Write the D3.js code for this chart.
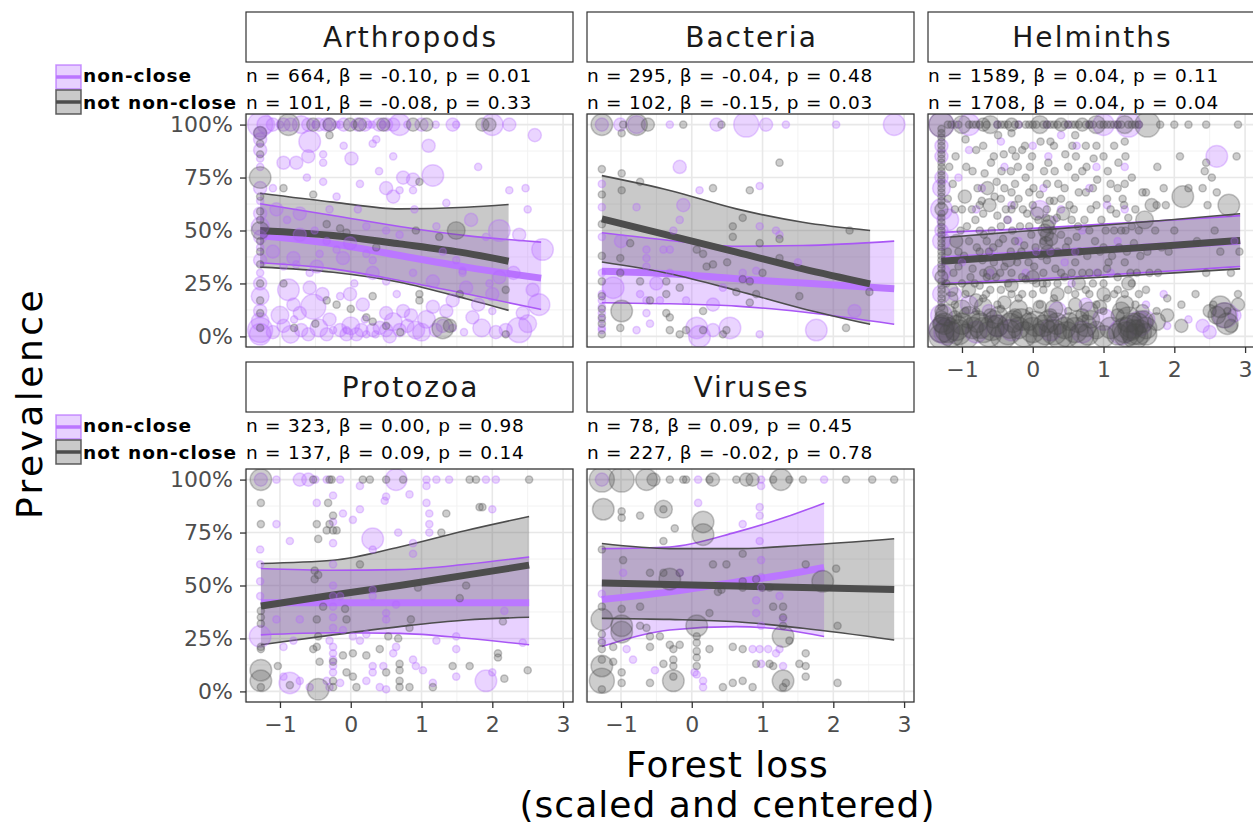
<!DOCTYPE html>
<html><head><meta charset="utf-8">
<script src="https://cdn.jsdelivr.net/npm/d3@7"></script>
<style>body{margin:0;background:#fff} svg{display:block}</style>
</head><body><svg id="chart" width="1253" height="830"></svg>
<script>
// ---------------- DATA ----------------
const panelNames = ["Arthropods", "Bacteria", "Helminths", "Protozoa", "Viruses"];
const groupNames = ["non-close", "not non-close"];
const xTicks = [-1, 0, 1, 2, 3];
const yTicks = [0, 0.25, 0.5, 0.75, 1];
const xDataRange = [-1.27, 2.93];
const annotations = [
  ["n = 664, β = -0.10, p = 0.01", "n = 101, β = -0.08, p = 0.33"],
  ["n = 295, β = -0.04, p = 0.48", "n = 102, β = -0.15, p = 0.03"],
  ["n = 1589, β = 0.04, p = 0.11", "n = 1708, β = 0.04, p = 0.04"],
  ["n = 323, β = 0.00, p = 0.98", "n = 137, β = 0.09, p = 0.14"],
  ["n = 78, β = 0.09, p = 0.45", "n = 227, β = -0.02, p = 0.78"]
];

// fitted curves: [x, fit, lower, upper]
const fitArthropodsNC = [[-1.28,0.476,0.348,0.626],[-0.25,0.437,0.319,0.571],[0.69,0.382,0.264,0.519],[1.63,0.327,0.201,0.476],[2.69,0.275,0.127,0.445]];
const fitArthropodsNNC = [[-1.28,0.50,0.327,0.676],[-0.25,0.476,0.303,0.634],[0.69,0.437,0.256,0.602],[1.63,0.393,0.178,0.61],[2.23,0.355,0.123,0.623]];
const fitBacteriaNC = [[-1.27,0.308,0.159,0.489],[-0.31,0.296,0.154,0.453],[0.63,0.272,0.143,0.426],[1.57,0.252,0.115,0.429],[2.86,0.225,0.057,0.45]];
const fitBacteriaNNC = [[-1.27,0.555,0.351,0.759],[-0.31,0.476,0.296,0.689],[0.63,0.398,0.217,0.602],[1.57,0.319,0.131,0.539],[2.52,0.248,0.057,0.5]];
const fitHelminthsNC = [[-1.29,0.362,0.25,0.492],[0.0,0.39,0.27,0.51],[1.0,0.41,0.29,0.53],[2.0,0.43,0.31,0.55],[2.93,0.45,0.33,0.57]];
const fitHelminthsNNC = [[-1.29,0.355,0.245,0.466],[0.0,0.385,0.262,0.5],[1.0,0.408,0.28,0.525],[2.0,0.43,0.30,0.552],[2.93,0.453,0.319,0.579]];
const fitProtozoaNC = [[-1.27,0.418,0.267,0.58],[-0.25,0.418,0.277,0.572],[0.69,0.418,0.274,0.575],[1.63,0.418,0.251,0.60],[2.52,0.418,0.22,0.635]];
const fitProtozoaNNC = [[-1.27,0.403,0.22,0.604],[-0.25,0.455,0.267,0.619],[0.69,0.50,0.306,0.682],[1.63,0.549,0.337,0.76],[2.52,0.596,0.35,0.826]];
const fitVirusesNC = [[-1.27,0.434,0.212,0.674],[-0.31,0.47,0.29,0.682],[0.63,0.517,0.306,0.752],[1.33,0.552,0.29,0.823],[1.87,0.585,0.259,0.889]];
const fitVirusesNNC = [[-1.27,0.512,0.345,0.698],[-0.31,0.505,0.34,0.674],[0.63,0.498,0.329,0.674],[1.57,0.49,0.298,0.69],[2.86,0.481,0.243,0.721]];

// observations: [forest loss, prevalence, size class]
const arthropodsNC = [[-1.28,1,5],[-1.28,0.96,2],[-1.28,0.93,2],[-1.28,0.88,2],[-1.28,0.84,1],[-1.28,0.80,1],[-1.28,0.70,2],[-1.28,0.64,1],[-1.28,0.58,2],[-1.28,0.52,3],[-1.28,0.47,2],[-1.28,0.42,1],[-1.28,0.36,2],[-1.28,0.30,1],[-1.28,0.25,2],[-1.28,0.19,3],[-1.28,0.12,2],[-1.28,0.07,3],[-1.28,0.03,5],[-1.28,0.01,4],
[-1.1,1,2],[-0.95,1,2],[-0.7,1,3],[-0.6,1,2],[-0.45,1,2],[-0.3,1,2],[-0.2,1,1],[-0.1,1,2],[0.05,1,1],[0.2,1,2],[0.3,1,1],[0.4,1,2],[0.5,1,2],[0.69,1,4],[0.8,1,1],[1.0,1,2],[1.2,1,1],[1.44,1,2],[1.49,1,1],[2.0,1,4],[2.24,1,2],
[-1.2,1,3],[-1.0,1,1],[-0.85,1,2],[-0.5,1,1],[-0.35,1,2],[-0.15,1,1],[0.1,1,2],[0.25,1,1],[0.45,1,1],[0.6,1,2],
[-0.58,0.92,4],[-0.95,0.82,2],[-0.77,0.82,2],[-0.39,0.86,1],[-0.39,0.82,1],[0.01,0.84,2],[0.31,0.91,1],[0.36,0.93,1],[1.16,0.76,4],[0.88,0.74,2],[0.74,0.75,2],[0.13,0.72,1],[0.5,0.70,2],[0.69,0.69,1],[0.88,0.69,1],[1.35,0.63,1],[0.60,0.66,2],[-0.72,0.58,2],[-0.62,0.75,1],[-0.39,0.73,1],[-0.20,0.66,1],[2.24,0.69,1],[2.47,0.70,1],[2.1,0.50,4],[2.38,0.48,2],[2.71,0.41,4],[2.57,0.22,2],[2.66,0.15,4],[2.43,0.11,2],[2.38,0.03,5],[2.19,0.03,2],[2.0,0.20,2],[1.96,0.25,1],[1.63,0.23,2],[1.44,0.17,2],[1.16,0.14,2],[1.07,0.08,3],[1.44,0.04,1],[0.92,0.03,3],[0.69,0.03,2],[0.50,0.03,2],[0.31,0.03,2],[0.22,0.01,1],[0.08,0.01,2],[-0.06,0.01,2],[-0.15,0.03,2],[-0.25,0.03,1],[-0.34,0.01,2],[-0.53,0.14,5],[-0.72,0.11,2],[-0.81,0.15,2],[-0.88,0.22,4],[-0.58,0.23,2],[-0.15,0.19,1],[-0.01,0.20,2],[0.17,0.15,2],[0.5,0.11,2],[0.74,0.12,2],[0.50,0.26,1],[0.88,0.30,1],[1.16,0.26,2],[1.58,0.30,1],[0.31,0.30,2],[0.31,0.36,1],[0.22,0.39,1],[-0.01,0.44,2],[-0.11,0.37,2],[-0.20,0.41,1],[-0.34,0.45,1],[-0.44,0.39,1],[-0.81,0.37,2],[-0.77,0.34,1],[-0.48,0.33,2],[-0.58,0.30,1],[-0.95,0.33,1],[1.21,0.52,1],[1.91,0.47,1],[1.49,0.36,1],[1.58,0.31,1],[2.1,0.28,2],[1.72,0.09,2],[2.0,0.12,1],[0.41,0.04,2],[-0.06,0.03,1],[-0.51,0.50,1],[-0.72,0.48,2],[0.22,0.52,1],[0.50,0.50,1],[0.69,0.48,1],[-1.05,0.60,2],[-1.0,0.10,3],[-1.1,0.40,2],[0.0,0.05,3],[0.6,0.07,3],[1.3,0.05,2],
[-1.1,0.02,2],[-0.95,0.05,2],[-0.85,0.01,3],[-0.7,0.03,2],[-0.6,0.01,2],[-0.45,0.04,3],[0.15,0.03,2],[0.35,0.01,1],[0.55,0.0,2],[0.8,0.05,2],[1.0,0.02,3],[1.2,0.03,2],[1.6,0.02,1],[1.85,0.04,3],[2.05,0.02,2],[2.5,0.06,3],[0.2,0.08,1],[-0.3,0.08,2],[-0.8,0.08,1],[0.85,0.1,2],[1.35,0.12,2],[-0.4,0.2,2],[0.05,0.25,1],[0.65,0.2,1],[1.8,0.15,2],[2.3,0.3,2],
[-1.1,0.7,1],[-0.9,0.55,1],[-0.3,0.6,1],[0.1,0.6,1],[0.4,0.78,1],[0.9,0.6,1],[1.3,0.4,1],[1.7,0.55,2],[2.5,0.6,1],[-0.6,0.85,2],[-0.1,0.9,1],[0.6,0.85,1],[1.1,0.9,2],[1.8,0.8,1],[2.6,0.95,2]];
const arthropodsNNC = [[-1.28,0.96,2],[-1.28,0.91,1],[-1.28,0.86,1],[-1.28,0.75,4],[-1.28,0.66,1],[-1.28,0.59,1],[-1.28,0.55,1],[-1.28,0.50,3],[-1.28,0.45,1],[-1.28,0.40,1],[-1.28,0.34,1],[-1.28,0.25,1],[-1.28,0.17,1],[-1.28,0.11,1],[-1.28,0.04,1],
[-0.88,1,4],[-0.53,1,2],[-0.30,1,2],[-0.01,1,2],[0.13,1,2],[0.46,1,2],[0.88,1,2],[1.07,1,2],[1.86,1,2],[1.96,1,2],[-0.3,0.95,1],
[0.97,0.73,1],[-0.53,0.67,1],[-0.95,0.70,1],[-0.15,0.51,1],[-0.34,0.53,1],[-0.06,0.49,1],[0.36,0.42,1],[0.92,0.50,1],[1.49,0.50,3],[1.25,0.47,1],[2.19,0.22,1],[-0.95,0.25,1],[-0.34,0.17,1],[-0.20,0.15,1],[0.31,0.19,1],[0.97,0.20,1],[0.97,0.17,1],[1.54,0.20,1],[0.22,0.09,1],[0.31,0.07,1],[1.30,0.04,4],[1.40,0.05,2],[-0.80,0.04,1],[-0.5,0.06,1],[0.5,0.05,1],[0.7,0.02,1],[2.19,0.01,1],[0.0,0.13,1]];

const bacteriaNC = [[-1.27,1,2],[-1.01,1,2],[-0.78,1,3],[-0.31,1,1],[0.35,1,2],[0.77,1,5],[1.05,1,2],[1.33,1,1],[2.04,1,1],[2.86,1,4],
[-0.17,0.80,2],[0.11,0.69,1],[0.96,0.71,1],[-0.12,0.62,2],[-0.78,0.61,1],[-1.27,0.72,1],[-1.27,0.61,1],[-1.27,0.47,1],[-1.27,0.30,1],[-1.27,0.20,1],[-1.27,0.17,1],[-1.27,0.14,1],[-1.27,0.11,1],[-1.27,0.08,1],[-1.27,0.04,1],[-1.27,0.03,1],[-1.11,0.23,4],[-0.64,0.41,1],[-0.64,0.37,1],[-0.64,0.33,1],[-0.73,0.20,1],[-0.64,0.17,1],[-0.64,0.11,1],[-0.59,0.06,1],[-0.78,0.03,1],[-0.45,0.17,1],[-0.40,0.41,1],[-0.31,0.30,1],[-0.08,0.17,1],[0.07,0.04,4],[0.11,0.0,4],[0.30,0.03,2],[0.54,0.04,4],[0.96,0.01,1],[0.96,0.52,1],[1.19,0.50,1],[1.24,0.48,1],[1.76,0.03,4],[0.44,0.23,1],[0.72,0.30,1],[0.91,0.31,1],[-0.26,0.50,1],[-0.17,0.55,1],[-0.31,0.41,1],[-1.0,0.45,2],[-0.5,0.25,2],[0.3,0.15,2],[1.5,0.35,1],[2.3,0.12,2]];
const bacteriaNNC = [[-1.27,1,4],[-0.97,1,1],[-0.78,1,4],[-0.62,1,2],[-0.12,1,1],[0.42,1,1],[-0.99,0.96,1],
[-1.27,0.79,1],[-0.99,0.77,1],[-0.73,0.73,1],[-0.99,0.69,1],[0.30,0.70,1],[0.82,0.69,1],[1.24,0.82,1],[-1.27,0.67,1],[-1.27,0.53,1],[-1.27,0.38,1],[-1.27,0.26,1],[-1.27,0.19,1],[-1.27,0.13,1],[-1.27,0.09,1],[-1.27,0.06,1],[-1.27,0.01,1],[-1.01,0.37,1],[-1.01,0.30,1],[-0.87,0.44,1],[-0.73,0.26,1],[-0.99,0.12,4],[-1.01,0.04,1],[-0.36,0.26,1],[-0.36,0.20,1],[-0.17,0.23,1],[-0.31,0.09,1],[-0.31,0.03,1],[-0.17,0.01,1],[0.07,0.41,1],[0.16,0.39,1],[0.21,0.33,1],[0.30,0.34,1],[0.58,0.52,1],[0.72,0.56,1],[0.58,0.47,1],[0.63,0.21,1],[0.72,0.27,1],[0.82,0.26,1],[0.91,0.20,1],[0.82,0.16,1],[0.96,0.44,1],[1.24,0.46,1],[1.24,0.37,1],[1.52,0.19,1],[2.18,0.04,1],[2.23,0.50,1],[2.51,0.21,1],[0.16,0.12,1],[0.16,0.03,1],[-0.08,0.03,1],[0.44,0.01,1],[0.49,0.03,1],[-0.36,0.11,1],[-0.59,0.17,1],[0.5,0.35,1],[1.0,0.3,1]];

const helminthsNC = [[-1.29,1,5],[-1.29,0.9,2],[-1.29,0.75,2],[-1.29,0.6,4],[-1.29,0.45,3],[-1.29,0.3,3],[-1.29,0.1,4],[-1.29,0.03,5],
[-1.1,1,1],[-0.9,1,4],[-0.5,1,1],[-0.2,1,1],[0.2,1,1],[0.5,1,1],[0.8,1,1],[1.0,1,4],[1.2,1,1],[1.35,1,5],[1.5,1,1],
[-1.0,0.35,1],[-0.8,0.6,1],[-0.6,0.3,1],[-0.4,0.8,1],[-0.2,0.45,1],[0.0,0.9,1],[0.15,0.7,1],[0.25,0.4,1],[0.4,0.6,1],[0.55,0.25,1],[0.7,0.5,1],[0.9,0.8,1],[1.1,0.3,1],[1.3,0.6,1],[1.6,0.15,1],[1.9,0.05,1],[2.2,0.08,1],[2.6,0.85,4],[2.85,0.45,1],[-1.2,0.55,4],[-0.9,0.15,3],[0.35,0.12,3],[1.0,0.08,4],[1.5,0.06,5],[-0.5,0.05,4],[0.1,0.6,3],[0.8,0.7,1],[-0.1,0.3,1],
[-0.72,0.7,1],[-0.3,0.62,1],[0.22,0.85,1],[0.62,0.9,1],[1.3,0.8,1],[-0.62,0.12,2],[0.75,0.15,2],[2.72,0.1,5],[2.5,0.02,2],[1.85,0.2,1],[-1.05,0.75,1],[0.45,0.35,1],
[-1.22,0.02,5],[-0.8,0.02,4],[-0.3,0.03,4],[0.25,0.03,4],[0.7,0.02,4],[1.25,0.02,5],[1.6,0.08,3],[-1.1,0.2,2],[-0.6,0.4,1],[-0.35,0.55,1],[0.05,0.4,1],[0.3,0.55,1],[0.6,0.4,1],[0.9,0.3,1],[1.2,0.45,1],[-0.9,0.88,1],[-0.45,0.92,1],[0.4,0.95,1],[1.05,0.62,1],[-1.29,0.2,3],[-1.29,0.5,2],[-1.29,0.7,3],[-1.29,0.85,2],[2.4,0.05,2],[2.85,0.1,2]];
const helminthsNNC = [[-1.29,0.0,5],[-1.29,0.03,5],[-1.29,0.06,3],[-1.29,0.09,2],[-1.29,0.12,2],[-1.29,0.16,1],[-1.29,0.2,1],[-1.29,0.24,1],[-1.29,0.28,2],[-1.29,0.32,1],[-1.29,0.36,1],[-1.29,0.4,1],[-1.29,0.44,1],[-1.29,0.48,1],[-1.29,0.52,1],[-1.29,0.56,1],[-1.29,0.6,2],[-1.29,0.64,1],[-1.29,0.68,1],[-1.29,0.72,1],[-1.29,0.76,1],[-1.29,0.8,1],[-1.29,0.84,1],[-1.29,0.88,1],[-1.29,0.92,1],[-1.29,0.96,1],[-1.29,1,5],
[-1.29,0.14,1],[-1.29,0.18,1],[-1.29,0.22,1],[-1.29,0.26,1],[-1.29,0.3,1],[-1.29,0.34,1],[-1.29,0.38,1],[-1.29,0.42,1],[-1.29,0.46,1],[-1.29,0.5,1],[-1.29,0.54,1],[-1.29,0.58,1],[-1.29,0.62,1],[-1.29,0.66,1],[-1.29,0.7,1],[-1.29,0.74,1],[-1.29,0.78,1],[-1.29,0.82,1],[-1.29,0.86,1],[-1.29,0.9,1],[-1.29,0.94,1],[-1.29,0.98,1],
[-1.15,1,1],[-1.0,1,3],[-0.9,1,1],[-0.8,1,1],[-0.7,1,2],[-0.6,1,3],[-0.5,1,1],[-0.4,1,1],[-0.3,1,2],[-0.2,1,1],[-0.1,1,1],[0.0,1,1],[0.1,1,3],[0.2,1,1],[0.3,1,1],[0.4,1,2],[0.5,1,1],[0.6,1,1],[0.7,1,2],[0.8,1,1],[0.9,1,3],[1.0,1,1],[1.15,1,1],[1.3,1,3],[1.45,1,1],[1.62,1,5],[1.8,1,1],[2.0,1,1],[2.2,1,1],[2.45,1,1],[2.9,1,1],
[-1.2,1,1],[-1.05,1,1],[-0.85,1,1],[-0.75,1,1],[-0.65,1,1],[-0.45,1,1],[-0.35,1,1],[-0.25,1,1],[-0.05,1,1],[0.05,1,1],[0.15,1,1],[0.25,1,1],[0.35,1,1],[0.45,1,1],[0.55,1,1],[0.65,1,1],[0.75,1,1],[0.85,1,1],[0.95,1,1],[1.05,1,1],[1.1,1,1],[1.2,1,1],[1.25,1,1],[1.35,1,1],[1.4,1,1],[1.5,1,1],
[-1.2,0.03,5],[-1.05,0.02,5],[-0.85,0.04,4],[-0.7,0.03,5],[-0.5,0.05,4],[-0.35,0.02,5],[-0.2,0.04,4],[0.0,0.03,5],[0.15,0.05,4],[0.3,0.02,5],[0.45,0.04,4],[0.6,0.03,5],[0.75,0.05,4],[0.9,0.03,3],[1.1,0.04,4],[1.3,0.03,5],[1.4,0.05,5],[1.5,0.02,5],[1.6,0.04,4],[1.75,0.07,3],[1.9,0.1,2],[2.1,0.05,2],[2.5,0.12,2],[2.6,0.1,3],[2.7,0.1,5],[2.8,0.05,2],[2.9,0.15,2],
[-1.25,0.06,4],[-1.15,0.01,5],[-1.0,0.06,4],[-0.95,0.0,5],[-0.78,0.07,4],[-0.62,0.01,5],[-0.55,0.08,3],[-0.42,0.0,5],[-0.28,0.07,4],[-0.12,0.01,5],[-0.05,0.07,3],[0.08,0.0,5],[0.22,0.07,4],[0.38,0.0,5],[0.52,0.07,3],[0.68,0.0,5],[0.82,0.08,3],[1.0,0.0,4],[1.2,0.01,4],[1.35,0.08,5],[1.45,0.0,5],[1.55,0.07,4],[1.25,0.12,3],[0.95,0.14,2],[0.6,0.15,2],[0.1,0.14,2],[-0.4,0.16,2],[-0.8,0.17,2],[-1.15,0.18,2],[2.65,0.14,4],[2.75,0.06,4],
[-1.22,0.1,4],[-1.08,0.04,5],[-0.9,0.09,4],[-0.74,0.05,5],[-0.58,0.04,5],[-0.48,0.1,3],[-0.32,0.05,5],[-0.16,0.08,4],[0.04,0.06,5],[0.18,0.02,5],[0.34,0.06,4],[0.48,0.01,5],[0.64,0.07,4],[0.78,0.01,4],[1.32,0.01,5],[1.38,0.04,5],[1.42,0.02,5],[1.48,0.06,4],[1.6,0.01,4],[-1.0,0.13,3],[-0.7,0.14,3],[-0.2,0.13,3],[0.3,0.13,3],[0.8,0.12,3],[1.3,0.15,3],
[-1.1,0.09,2],[-0.95,0.12,1],[-0.6,0.1,2],[-0.45,0.13,1],[-0.25,0.1,2],[-0.05,0.12,1],[0.25,0.1,2],[0.5,0.12,1],[0.7,0.1,2],[1.0,0.12,1],[1.2,0.1,2],[1.55,0.12,2],
[-1.1,0.15,1],[-1.12,0.3,1],[-1.08,0.45,2],[-1.1,0.6,1],[-1.13,0.72,1],[-1.09,0.85,1],
[-0.95,0.2,1],[-0.97,0.38,1],[-0.93,0.52,1],[-0.96,0.66,2],[-0.94,0.8,1],[-0.95,0.93,1],
[-0.8,0.12,1],[-0.82,0.25,1],[-0.79,0.42,1],[-0.81,0.55,1],[-0.78,0.7,1],[-0.8,0.88,1],
[-0.7,0.18,1],[-0.7,0.3,1],[-0.71,0.36,1],[-0.69,0.48,1],[-0.7,0.58,1],[-0.72,0.64,1],[-0.68,0.77,1],[-0.7,0.9,1],
[-0.6,0.22,1],[-0.62,0.4,1],[-0.58,0.5,1],[-0.61,0.62,2],[-0.59,0.82,1],
[-0.5,0.15,1],[-0.52,0.28,1],[-0.48,0.44,1],[-0.5,0.57,1],[-0.51,0.73,1],[-0.49,0.95,1],
[-0.4,0.33,1],[-0.42,0.46,1],[-0.38,0.6,1],[-0.4,0.7,1],[-0.41,0.86,1],
[-0.3,0.2,1],[-0.3,0.3,1],[-0.31,0.4,1],[-0.29,0.5,1],[-0.3,0.6,1],[-0.3,0.68,1],[-0.31,0.78,1],[-0.29,0.88,1],[-0.3,0.96,1],
[-0.2,0.18,1],[-0.22,0.35,1],[-0.18,0.52,1],[-0.2,0.65,1],[-0.21,0.8,1],
[-0.1,0.27,1],[-0.12,0.43,1],[-0.08,0.58,1],[-0.1,0.75,1],[-0.11,0.9,1],
[0.0,0.2,1],[0.02,0.33,1],[-0.02,0.48,1],[0.0,0.62,1],[0.01,0.7,1],[-0.01,0.85,1],
[0.1,0.15,1],[0.12,0.38,1],[0.08,0.55,1],[0.1,0.67,1],[0.11,0.92,1],
[0.2,0.25,1],[0.2,0.36,1],[0.21,0.4,2],[0.19,0.44,2],[0.2,0.48,2],[0.21,0.52,2],[0.19,0.56,1],[0.2,0.6,1],[0.2,0.72,1],[0.22,0.82,1],
[0.3,0.18,1],[0.32,0.32,1],[0.28,0.5,1],[0.3,0.64,1],[0.31,0.78,1],[0.3,0.9,1],
[0.45,0.28,1],[0.47,0.42,1],[0.43,0.58,2],[0.45,0.7,1],[0.46,0.86,1],
[0.6,0.2,1],[0.6,0.35,1],[0.62,0.47,1],[0.58,0.6,1],[0.6,0.75,1],[0.61,0.85,1],[0.6,0.95,1],
[0.75,0.22,1],[0.77,0.38,1],[0.73,0.55,1],[0.75,0.68,1],[0.76,0.8,1],
[0.9,0.15,1],[0.92,0.3,1],[0.88,0.45,1],[0.9,0.62,1],[0.91,0.74,1],[0.9,0.9,1],
[1.05,0.18,1],[1.07,0.35,1],[1.03,0.5,1],[1.05,0.65,1],[1.06,0.78,1],
[1.2,0.28,1],[1.22,0.42,1],[1.18,0.58,1],[1.2,0.7,1],[1.21,0.82,1],
[1.3,0.2,1],[1.3,0.35,1],[1.31,0.5,1],[1.29,0.62,1],[1.3,0.72,1],[1.31,0.85,1],[1.3,0.92,1],
[1.45,0.15,1],[1.47,0.3,1],[1.43,0.44,1],[1.45,0.6,1],
[1.6,0.22,1],[1.62,0.4,1],[1.58,0.55,3],[1.6,0.68,1],
[1.75,0.12,1],[1.77,0.3,1],[1.73,0.5,1],[1.75,0.62,1],[1.76,0.8,1],
[1.9,0.18,1],[1.92,0.4,1],[1.88,0.62,1],
[2.1,0.15,1],[2.12,0.66,4],[2.08,0.85,1],
[2.3,0.2,1],[2.32,0.45,1],
[2.45,0.3,1],[2.47,0.62,1],[2.43,0.78,1],[2.45,0.82,1],
[2.55,0.15,1],[2.57,0.5,1],[2.53,0.75,1],
[2.75,0.12,1],[2.77,0.62,4],
[2.9,0.2,1],[2.92,0.4,1],[2.88,0.85,1],
[-1.0,0.25,1],[-0.85,0.32,1],[-0.65,0.28,1],[-0.55,0.35,1],[-0.35,0.25,1],[-0.15,0.28,1],[0.05,0.25,1],[0.15,0.3,1],[0.35,0.25,1],[0.55,0.3,1],[0.7,0.3,1],[0.85,0.25,1],[1.0,0.25,1],[1.15,0.2,1],[1.4,0.25,1],[-0.9,0.45,1],[-0.65,0.45,1],[-0.45,0.52,1],[-0.25,0.45,1],[-0.05,0.52,1],[0.15,0.45,1],[0.35,0.4,1],[0.55,0.55,1],[0.8,0.5,1],[1.0,0.42,1],[1.15,0.5,1],[1.4,0.52,1],[-1.0,0.6,1],[-0.75,0.62,1],[-0.45,0.65,1],[-0.25,0.72,1],[-0.05,0.68,1],[0.4,0.65,1],[0.65,0.68,1],[0.85,0.7,1],[1.1,0.72,1],[-0.85,0.78,1],[-0.55,0.85,1],[-0.15,0.88,1],[0.25,0.92,1],[0.5,0.8,1],[0.75,0.9,1],[1.15,0.9,1],[1.4,0.75,1],
[-1.05,0.33,1],[-1.02,0.5,1],[-0.88,0.28,1],[-0.86,0.6,1],[-0.75,0.5,1],[-0.66,0.2,1],[-0.64,0.7,2],[-0.56,0.42,1],[-0.54,0.66,1],[-0.46,0.3,1],[-0.44,0.78,1],[-0.36,0.55,1],[-0.34,0.36,2],[-0.26,0.62,1],[-0.24,0.85,1],[-0.16,0.4,1],[-0.14,0.6,1],[-0.06,0.35,1],[-0.04,0.8,1],[0.04,0.42,1],[0.06,0.58,2],[0.14,0.25,1],[0.16,0.78,1],[0.24,0.64,1],[0.26,0.46,2],[0.17,0.5,2],[0.23,0.54,2],[0.34,0.56,1],[0.36,0.72,1],[0.4,0.3,1],[0.5,0.45,1],[0.52,0.62,1],[0.56,0.9,1],[0.64,0.52,1],[0.66,0.4,1],[0.7,0.78,1],[0.8,0.3,1],[0.82,0.6,1],[0.86,0.84,1],[0.95,0.4,1],[0.97,0.55,1],[1.0,0.85,1],[1.1,0.6,1],[1.12,0.38,1],[1.25,0.5,1],[1.27,0.65,1],[1.33,0.4,1],[1.35,0.56,1],[1.38,0.3,1],[1.5,0.5,1],[1.52,0.38,1],[1.55,0.68,1],[1.65,0.3,1],[1.68,0.62,2],[1.82,0.42,1],[1.85,0.7,1],[2.0,0.5,1],[2.2,0.7,1],[2.4,0.7,1],[2.6,0.68,1],[2.65,0.4,1],[2.8,0.3,1],[-1.2,0.4,1],[-1.2,0.65,1],[-1.18,0.8,1],[-1.22,0.25,1],
[-1.15,0.22,2],[-1.05,0.4,1],[-0.9,0.22,2],[-0.75,0.24,1],[-0.6,0.3,2],[-0.45,0.22,1],[-0.3,0.24,2],[-0.15,0.2,1],[0.0,0.28,2],[0.15,0.22,1],[0.35,0.2,2],[0.5,0.22,1],[0.65,0.25,2],[0.8,0.2,1],[1.0,0.2,2],[1.2,0.22,1],[1.35,0.25,2],[1.5,0.2,1],[-0.75,0.4,1],[-0.2,0.38,1],[0.4,0.48,1],[1.05,0.32,1]];

const protozoaNC = [[-1.27,1,2],[-1.05,1,1],[-0.72,1,2],[-0.60,1,2],[-0.50,1,1],[-0.34,1,1],[-0.15,1,1],[0.64,1,4],[1.07,1,1],[1.21,1,1],[1.39,1,1],[1.91,1,1],[2.05,1,1],
[0.13,0.97,1],[-0.25,0.925,1],[0.50,0.92,1],[1.07,0.97,1],[0.83,0.93,1],
[-1.05,0.79,1],[-0.86,0.71,1],[-1.28,0.67,1],[-0.48,0.89,1],[-0.11,0.84,1],[0.03,0.81,1],[0.13,0.86,1],[0.31,0.72,4],[0.31,0.67,1],[0.48,0.90,1],[0.67,0.75,1],[1.07,0.89,1],[1.11,0.84,1],[1.11,0.79,1],[1.11,0.75,1],[0.88,0.70,1],[0.88,0.65,1],[0.64,0.41,1],[0.50,0.37,1],[0.50,0.34,1],[0.22,0.27,1],[0.13,0.24,1],[-0.11,0.29,1],[-0.15,0.45,1],[0.31,0.48,1],[0.31,0.45,1],[0.03,0.26,1],[-0.30,0.24,1],[-0.25,0.21,1],[-0.25,0.18,1],[-0.25,0.15,1],[-0.25,0.12,1],[-0.25,0.09,1],[-0.34,0.05,1],[-0.86,0.04,4],[-0.95,0.07,1],[-0.72,0.05,1],[-0.58,0.02,1],[-0.30,0.02,1],[-0.15,0.04,1],[0.22,0.05,1],[0.41,0.02,1],[0.50,0.01,1],[0.31,0.12,1],[0.31,0.09,1],[0.46,0.12,1],[0.60,0.18,1],[0.64,0.21,1],[0.88,0.15,1],[0.92,0.12,1],[1.02,0.10,1],[1.16,0.04,1],[1.49,0.07,1],[1.49,0.20,1],[1.91,0.05,4],[2.00,0.09,1],[2.17,0.38,1],[2.43,0.23,1],[2.00,0.86,1],[-1.28,0.26,4],[-0.95,0.21,1],[-1.05,0.34,1],[-1.28,0.52,1],[-1.28,0.60,1],[-1.28,0.45,1],[-0.72,0.34,1],[-0.81,0.24,1],[1.21,0.24,1],[1.49,0.26,1],[-0.25,0.6,1],[-0.25,0.5,1],[-0.25,0.4,1],[-0.25,0.3,1],[-0.25,0.7,1],[-0.25,0.8,1],[-0.25,0.45,1],[-0.25,0.35,1]];
const protozoaNNC = [[-1.27,1,4],[-0.53,1,1],[-0.30,1,1],[-0.27,1,1],[0.17,1,1],[0.27,1,1],[0.50,1,1],[0.74,1,1],[1.68,1,1],[1.77,1,1],[2.52,1,1],
[-1.27,0.89,1],[-1.27,0.79,1],[-0.32,0.89,1],[-0.25,0.83,1],[-0.34,0.76,1],[-0.25,0.76,1],[-0.20,0.76,1],[-0.46,0.72,1],[-0.48,0.79,1],[-0.30,0.79,1],[1.35,0.84,1],[1.82,0.87,1],[1.86,0.87,1],[1.28,0.75,1],[-1.27,0.38,1],[-1.27,0.35,1],[-1.27,0.32,1],[-1.27,0.21,1],[-1.27,0.20,1],[-1.27,0.10,4],[-1.27,0.05,4],[-1.27,0.02,1],[-1.03,0.12,1],[-0.48,0.21,1],[-0.51,0.57,1],[-0.46,0.55,1],[-0.51,0.53,1],[-0.39,0.40,1],[-0.48,0.34,1],[-0.08,0.39,1],[-0.06,0.34,1],[-0.11,0.17,1],[0.03,0.18,1],[0.13,0.60,1],[0.41,0.20,1],[0.22,0.17,1],[0.50,0.09,1],[0.69,0.13,1],[0.69,0.10,1],[0.69,0.05,1],[0.69,0.02,1],[0.83,0.02,1],[0.03,0.07,1],[0.08,0.02,1],[-0.25,0.02,1],[-0.46,0.01,4],[-0.25,0.05,1],[-0.86,0.03,1],[0.95,0.49,1],[1.54,0.44,1],[1.63,0.50,1],[2.15,0.33,1],[2.08,0.18,1],[2.08,0.16,1],[2.17,0.06,1],[2.50,0.10,1],[1.44,0.12,1],[1.68,0.12,1],[1.16,0.02,1],[0.85,0.34,1],[0.83,0.30,1],[0.67,0.25,1],[0.53,0.26,1],[-0.25,0.14,1],[-0.44,0.14,1],[-0.53,0.20,1],[-0.46,0.26,1],[-0.06,0.09,1]];

const virusesNC = [[-1.27,1,2],[0.09,1,1],[0.98,1,1],[1.87,1,1],[0.98,0.97,1],
[0.09,0.89,1],[0.72,0.79,1],[0.96,0.87,1],[0.96,0.83,1],[0.96,0.71,1],[0.98,0.62,1],[0.98,0.54,1],[0.98,0.49,1],[0.91,0.43,1],[0.91,0.37,1],[0.98,0.31,1],[0.96,0.20,1],[0.98,0.13,1],[0.86,0.20,1],[1.24,0.20,1],[1.19,0.18,1],[1.29,0.34,1],[1.24,0.45,1],[-0.17,0.56,1],[-0.83,0.15,1],[-0.92,0.20,1],[-0.97,0.56,1],[-1.27,0.46,1],[-1.27,0.24,1],[-0.52,0.10,1],[0.16,0.05,1],[0.16,0.02,1],[1.29,0.12,1],[0.04,0.09,1],[0.07,0.08,1],[1.08,0.20,1]];
const virusesNNC = [[-1.27,1,5],[-0.99,1,5],[-0.64,1,4],[-0.54,1,2],[-0.31,1,1],[-0.12,1,1],[-0.08,1,1],[0.25,1,1],[0.30,1,2],[0.63,1,1],[0.77,1,2],[0.86,1,2],[1.15,1,1],[1.26,1,4],[1.38,1,1],[1.57,1,1],[2.18,1,1],[2.55,1,1],[2.86,1,1],
[-1.25,0.86,4],[-0.99,0.85,1],[-0.99,0.82,1],[-0.73,0.83,1],[-0.40,0.86,3],[-0.40,0.86,1],[-0.24,0.77,1],[0.16,0.80,4],[0.16,0.74,4],[-0.40,0.71,1],[-1.27,0.67,1],[-0.97,0.62,1],[-0.59,0.56,1],[-0.40,0.56,1],[-0.17,0.56,1],[-0.31,0.53,4],[-0.73,0.40,1],[-0.99,0.39,1],[-1.27,0.40,1],[-1.27,0.34,4],[-0.99,0.31,4],[-0.99,0.28,4],[-1.27,0.27,1],[-1.27,0.23,1],[-1.27,0.20,1],[-1.27,0.15,1],[-1.27,0.12,4],[-1.27,0.05,5],[-1.27,0.01,1],[-1.11,0.21,1],[-1.11,0.14,1],[-0.99,0.04,1],[-0.99,0.09,1],[-0.73,0.31,1],[-0.64,0.30,1],[-0.59,0.26,1],[-0.45,0.26,1],[-0.59,0.21,1],[-0.59,0.04,1],[-0.40,0.13,1],[-0.31,0.22,1],[-0.26,0.20,1],[-0.26,0.15,1],[-0.26,0.12,1],[-0.26,0.07,1],[-0.26,0.05,4],[-0.17,0.22,1],[0.07,0.31,4],[0.07,0.26,1],[0.07,0.23,1],[0.07,0.19,1],[0.07,0.16,1],[0.07,0.12,1],[0.25,0.37,1],[0.25,0.20,1],[0.37,0.47,1],[0.58,0.21,1],[0.72,0.20,1],[0.72,0.05,1],[0.91,0.13,1],[1.00,0.49,1],[1.10,0.13,1],[1.15,0.12,1],[1.15,0.40,1],[1.29,0.40,1],[1.29,0.35,1],[1.29,0.31,1],[1.29,0.26,4],[1.29,0.05,4],[1.29,0.02,1],[1.33,0.04,1],[1.38,0.24,1],[1.52,0.13,1],[1.61,0.60,1],[1.61,0.18,1],[1.61,0.12,1],[1.61,0.07,1],[1.85,0.52,4],[2.04,0.58,1],[2.06,0.31,1],[2.06,0.04,1],[0.44,0.02,1],[0.58,0.04,1],[0.86,0.02,1],[0.72,0.49,1],[0.91,0.53,1],[1.10,0.49,1],[0.42,0.48,1],[0.49,0.60,1],[0.72,0.52,1],[0.30,0.60,1],[0.72,0.65,1]];

// ---------------- ASSEMBLY ----------------
const pointSets = [[arthropodsNC, arthropodsNNC],[bacteriaNC, bacteriaNNC],[helminthsNC, helminthsNNC],[protozoaNC, protozoaNNC],[virusesNC, virusesNNC]];
const fitSets = [[fitArthropodsNC, fitArthropodsNNC],[fitBacteriaNC, fitBacteriaNNC],[fitHelminthsNC, fitHelminthsNNC],[fitProtozoaNC, fitProtozoaNNC],[fitVirusesNC, fitVirusesNNC]];

// ---------------- STYLE / LAYOUT ----------------
const FONT = "'DejaVu Sans', 'Noto Sans', sans-serif";
const purple = "#b266ff", purpleEdge = "#a957f5", gray = "#4d4d4d";
const groupFill = [purple, gray];
const groupLine = ["#bb77ff", gray];
const groupEdge = [purpleEdge, gray];
const colX = [246, 587, 928];
const stripTop = [12, 362];
const panelTop = [114, 469];
const panelW = 327, panelH = 233, stripH = 50;
const facetPos = [
  {col:0,row:0,yAxis:true,xAxis:false},
  {col:1,row:0,yAxis:false,xAxis:false},
  {col:2,row:0,yAxis:false,xAxis:true},
  {col:0,row:1,yAxis:true,xAxis:true},
  {col:1,row:1,yAxis:false,xAxis:true}
];

const svg = d3.select("#chart");
svg.append("rect").attr("width",1253).attr("height",830).attr("fill","#fff");

// letter spacing so a text of given size spans a target width
function spacing(text, weight, size, target) {
  const t = svg.append("text").attr("font-family",FONT).attr("font-weight",weight).attr("font-size",size).text(text);
  const w = t.node().getComputedTextLength(); t.remove();
  return (target - w) / text.length;
}
const stripFS = 28, annFS = 18.5, legFS = 18.5, tickFS = 22, titleFS = 36;
const stripLS = spacing("Arthropods",400,stripFS,175);
const annLS = spacing(annotations[0][0],400,annFS,286);
const legLS = spacing("not non-close",700,legFS,154);
const titleLS = spacing("(scaled and centered)",400,titleFS,416);
const yTitleLS = spacing("Prevalence",400,titleFS,232);

const xpad = (xDataRange[1]-xDataRange[0])*0.05;
const x = d3.scaleLinear().domain([xDataRange[0]-xpad, xDataRange[1]+xpad]).range([0,panelW]);
const y = d3.scaleLinear().domain([-0.05,1.05]).range([panelH,0]);
const r = d3.scaleSqrt().domain([1,5]).range([3.6,12.5]);

const defs = svg.append("defs");
defs.append("clipPath").attr("id","pclip").append("rect").attr("width",panelW).attr("height",panelH);

const area = d3.area().x(d=>x(d[0])).y0(d=>y(d[2])).y1(d=>y(d[3])).curve(d3.curveMonotoneX);
const lineFit = d3.line().x(d=>x(d[0])).y(d=>y(d[1])).curve(d3.curveMonotoneX);
const lineLo = d3.line().x(d=>x(d[0])).y(d=>y(d[2])).curve(d3.curveMonotoneX);
const lineHi = d3.line().x(d=>x(d[0])).y(d=>y(d[3])).curve(d3.curveMonotoneX);

panelNames.forEach((name, i) => {
  const pos = facetPos[i];
  const px = colX[pos.col], py = panelTop[pos.row], sy = stripTop[pos.row];
  // strip
  svg.append("rect").attr("x",px).attr("y",sy).attr("width",panelW).attr("height",stripH)
    .attr("fill","#fff").attr("stroke","#333").attr("stroke-width",1.2);
  svg.append("text").attr("x",px+panelW/2+stripLS/2).attr("y",sy+stripH/2).attr("dy","0.36em")
    .attr("text-anchor","middle").attr("font-family",FONT).attr("font-size",stripFS)
    .attr("letter-spacing",stripLS).attr("fill","#1a1a1a").text(name);
  // annotations
  annotations[i].forEach((a,k) => {
    svg.append("text").attr("x",px).attr("y",sy+stripH+20+k*26.5)
      .attr("font-family",FONT).attr("font-size",annFS).attr("letter-spacing",annLS).attr("fill","#000").text(a);
  });
  const g = svg.append("g").attr("transform",`translate(${px},${py})`);
  g.append("rect").attr("width",panelW).attr("height",panelH).attr("fill","#fff");
  // grid
  const minorX = [-1.5,-0.5,0.5,1.5,2.5], minorY = [0.125,0.375,0.625,0.875];
  g.selectAll(".mx").data(minorX).join("line").attr("x1",d=>x(d)).attr("x2",d=>x(d)).attr("y1",0).attr("y2",panelH).attr("stroke","#f2f2f2").attr("stroke-width",1);
  g.selectAll(".my").data(minorY).join("line").attr("y1",d=>y(d)).attr("y2",d=>y(d)).attr("x1",0).attr("x2",panelW).attr("stroke","#f2f2f2").attr("stroke-width",1);
  g.selectAll(".gx").data(xTicks).join("line").attr("x1",d=>x(d)).attr("x2",d=>x(d)).attr("y1",0).attr("y2",panelH).attr("stroke","#e8e8e8").attr("stroke-width",1.6);
  g.selectAll(".gy").data(yTicks).join("line").attr("y1",d=>y(d)).attr("y2",d=>y(d)).attr("x1",0).attr("x2",panelW).attr("stroke","#e8e8e8").attr("stroke-width",1.6);

  const c = g.append("g").attr("clip-path","url(#pclip)");
  // ribbons
  fitSets[i].forEach((f,gi) => {
    c.append("path").datum(f).attr("d",area).attr("fill",groupFill[gi]).attr("fill-opacity",0.3);
  });
  fitSets[i].forEach((f,gi) => {
    c.append("path").datum(f).attr("d",lineLo).attr("fill","none").attr("stroke",groupEdge[gi]).attr("stroke-width",1.6);
    c.append("path").datum(f).attr("d",lineHi).attr("fill","none").attr("stroke",groupEdge[gi]).attr("stroke-width",1.6);
    c.append("path").datum(f).attr("d",lineFit).attr("fill","none").attr("stroke",groupLine[gi]).attr("stroke-width",7);
  });
  // points
  pointSets[i].forEach((pts,gi) => {
    c.selectAll(null).data(pts).join("circle")
      .attr("cx",d=>x(d[0])).attr("cy",d=>y(d[1])).attr("r",d=>r(d[2]))
      .attr("fill",groupFill[gi]).attr("fill-opacity",0.28)
      .attr("stroke",groupFill[gi]).attr("stroke-opacity",0.3).attr("stroke-width",1.5);
  });
  // border
  g.append("rect").attr("width",panelW).attr("height",panelH).attr("fill","none").attr("stroke","#333").attr("stroke-width",1.3);
  // axes
  if (pos.yAxis) {
    const ay = g.append("g").call(d3.axisLeft(y).tickValues(yTicks).tickFormat(d3.format(".0%")).tickSize(6).tickPadding(7).tickSizeOuter(0));
    ay.select(".domain").remove();
    ay.selectAll(".tick line").attr("stroke","#333").attr("stroke-width",1.3);
    ay.selectAll(".tick text").attr("font-family",FONT).attr("font-size",tickFS).attr("fill","#4d4d4d");
  }
  if (pos.xAxis) {
    const ax = g.append("g").attr("transform",`translate(0,${panelH})`)
      .call(d3.axisBottom(x).tickValues(xTicks).tickFormat(d3.format("d")).tickSize(6).tickPadding(8).tickSizeOuter(0));
    ax.select(".domain").remove();
    ax.selectAll(".tick line").attr("stroke","#333").attr("stroke-width",1.3);
    ax.selectAll(".tick text").attr("font-family",FONT).attr("font-size",tickFS).attr("fill","#4d4d4d");
  }
});

// legends
stripTop.forEach(sy => {
  groupNames.forEach((gname, gi) => {
    const ky = sy + stripH + 3 + gi*25;
    svg.append("rect").attr("x",56).attr("y",ky).attr("width",25).attr("height",24)
      .attr("fill",groupFill[gi]).attr("fill-opacity",0.3)
      .attr("stroke",gi===0 ? purple : gray).attr("stroke-opacity",gi===0?0.7:0.9).attr("stroke-width",1.5);
    svg.append("line").attr("x1",56).attr("x2",81).attr("y1",ky+12).attr("y2",ky+12)
      .attr("stroke",groupLine[gi]).attr("stroke-width",3.5);
    svg.append("text").attr("x",83).attr("y",sy+stripH+20+gi*26.5)
      .attr("font-family",FONT).attr("font-weight",700).attr("font-size",legFS)
      .attr("letter-spacing",legLS).attr("fill","#000").text(gname);
  });
});

// axis titles
svg.append("text").attr("transform","translate(42,403) rotate(-90)").attr("text-anchor","middle")
  .attr("font-family",FONT).attr("font-size",titleFS).attr("letter-spacing",yTitleLS).attr("fill","#000").text("Prevalence");
svg.append("text").attr("x",727+titleLS/2).attr("y",777).attr("text-anchor","middle")
  .attr("font-family",FONT).attr("font-size",titleFS).attr("letter-spacing",titleLS).attr("fill","#000").text("Forest loss");
svg.append("text").attr("x",727+titleLS/2).attr("y",817).attr("text-anchor","middle")
  .attr("font-family",FONT).attr("font-size",titleFS).attr("letter-spacing",titleLS).attr("fill","#000").text("(scaled and centered)");
</script></body></html>
